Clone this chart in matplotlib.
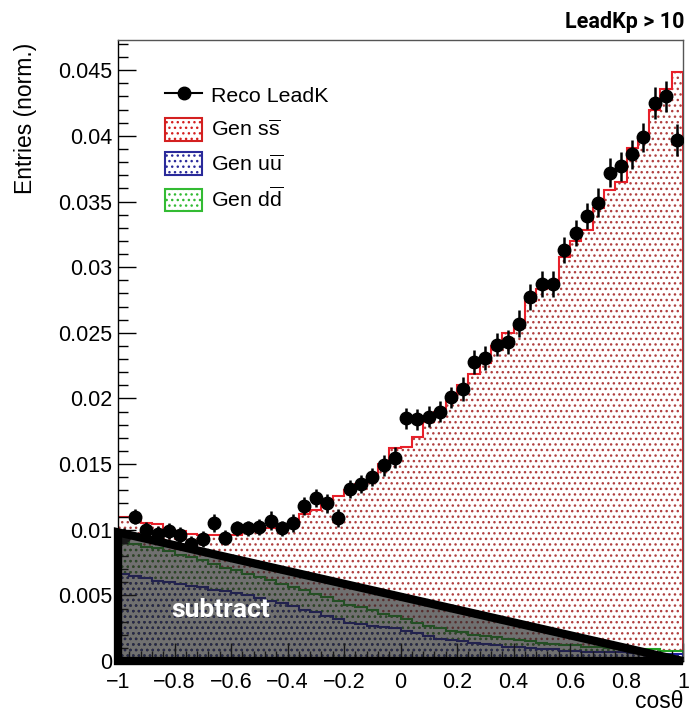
import numpy as np
import matplotlib.pyplot as plt
from matplotlib.lines import Line2D
from matplotlib.patches import Patch, Polygon
from matplotlib.ticker import MultipleLocator, FuncFormatter

plt.rcParams['font.family'] = ['Liberation Sans', 'DejaVu Sans']
plt.rcParams['mathtext.fontset'] = 'custom'
plt.rcParams['mathtext.rm'] = 'Liberation Sans'
plt.rcParams['mathtext.it'] = 'Liberation Sans:italic'
plt.rcParams['hatch.linewidth'] = 1.0

# binning in cos(theta)
edges = np.linspace(-1, 1, 51)

# reco leading kaon (normalised) with stat. errors
reco = [0.0095, 0.0110, 0.0100, 0.0097, 0.0099, 0.0096, 0.0089, 0.0093, 0.0105, 0.0094,
        0.0101, 0.0101, 0.0102, 0.0107, 0.0101, 0.0105, 0.0118, 0.0124, 0.0120, 0.0109,
        0.0131, 0.0135, 0.0140, 0.0149, 0.0155, 0.0185, 0.0184, 0.0186, 0.0190, 0.0201,
        0.0207, 0.0228, 0.0231, 0.0241, 0.0243, 0.0257, 0.0277, 0.0287, 0.0287, 0.0313,
        0.0326, 0.0339, 0.0349, 0.0372, 0.0377, 0.0386, 0.0399, 0.0425, 0.0430, 0.0397]
reco_err = [0.0006, 0.0006, 0.0006, 0.0006, 0.0006, 0.0006, 0.0006, 0.0006, 0.0007, 0.0006,
            0.0006, 0.0006, 0.0006, 0.0007, 0.0006, 0.0007, 0.0007, 0.0007, 0.0007, 0.0007,
            0.0007, 0.0007, 0.0007, 0.0008, 0.0008, 0.0008, 0.0008, 0.0008, 0.0008, 0.0008,
            0.0009, 0.0009, 0.0009, 0.0009, 0.0009, 0.0010, 0.0010, 0.0010, 0.0010, 0.0010,
            0.0010, 0.0010, 0.0011, 0.0011, 0.0011, 0.0011, 0.0011, 0.0012, 0.0012, 0.0012]

# generator level, per flavour
gen_ss = [0.0110, 0.0110, 0.0105, 0.0104, 0.0100, 0.0099, 0.0097, 0.0096, 0.0096, 0.0095,
          0.0096, 0.0099, 0.0100, 0.0101, 0.0101, 0.0103, 0.0112, 0.0115, 0.0121, 0.0126,
          0.0130, 0.0135, 0.0140, 0.0150, 0.0162, 0.0163, 0.0171, 0.0182, 0.0190, 0.0199,
          0.0210, 0.0219, 0.0227, 0.0240, 0.0250, 0.0255, 0.0274, 0.0283, 0.0289, 0.0308,
          0.0320, 0.0328, 0.0345, 0.0359, 0.0365, 0.0391, 0.0399, 0.0420, 0.0436, 0.0449]
gen_uu = [0.0066, 0.0065, 0.0063, 0.0061, 0.0060, 0.0059, 0.0057, 0.0056, 0.0054, 0.0053,
          0.0052, 0.0050, 0.0048, 0.0046, 0.0044, 0.0042, 0.0039, 0.0037, 0.0034, 0.0032,
          0.0029, 0.0028, 0.0027, 0.0026, 0.0025, 0.0023, 0.0021, 0.0019, 0.0017, 0.0016,
          0.0015, 0.0014, 0.0013, 0.0012, 0.0011, 0.0011, 0.0010, 0.0009, 0.0009, 0.0008,
          0.0008, 0.0007, 0.0007, 0.0007, 0.0007, 0.0006, 0.0006, 0.0006, 0.0005, 0.0005]
gen_dd = [0.0091, 0.0089, 0.0087, 0.0086, 0.0084, 0.0081, 0.0079, 0.0077, 0.0074, 0.0071,
          0.0069, 0.0066, 0.0064, 0.0062, 0.0059, 0.0056, 0.0054, 0.0051, 0.0049, 0.0046,
          0.0043, 0.0041, 0.0039, 0.0036, 0.0034, 0.0032, 0.0029, 0.0027, 0.0025, 0.0023,
          0.0022, 0.0020, 0.0019, 0.0018, 0.0017, 0.0016, 0.0015, 0.0014, 0.0013, 0.0012,
          0.0012, 0.0011, 0.0011, 0.0010, 0.0010, 0.0009, 0.0009, 0.0009, 0.0008, 0.0008]

# hand-drawn "subtract" triangle
subtract_x = [-1.0, 1.0, -1.0]
subtract_y = [0.0098, 0.0, 0.0]

centers = 0.5 * (edges[:-1] + edges[1:])

fig = plt.figure(figsize=(6.89, 7.15), dpi=100)
ax = fig.add_axes([0.1713, 0.0755, 0.8200, 0.8685])

# filled histograms (ROOT style dotted fill)
ax.stairs(gen_ss, edges, fill=True, facecolor='none', edgecolor='#b04040', hatch='...', linewidth=0)
ax.stairs(gen_dd, edges, fill=True, facecolor='none', edgecolor='#2e8b2e', hatch='...', linewidth=0)
ax.stairs(gen_uu, edges, fill=True, facecolor='none', edgecolor='#2a2a9a', hatch='...', linewidth=0)
ax.stairs(gen_ss, edges, color='#e8202a', linewidth=1.5)
ax.stairs(gen_dd, edges, color='#22a022', linewidth=1.5)
ax.stairs(gen_uu, edges, color='#1c1c9c', linewidth=1.5)

ax.errorbar(centers, reco, yerr=reco_err, fmt='o', color='black', ms=9,
            elinewidth=1.8, capsize=0, zorder=4)

tri = Polygon(np.column_stack([subtract_x, subtract_y]), closed=True,
              facecolor=(0.15, 0.15, 0.15, 0.66), edgecolor='black', linewidth=6,
              joinstyle='miter', clip_on=False, zorder=5)
ax.add_patch(tri)
ax.text(-0.637, 0.0039, 'subtract', color='white', fontfamily='Roboto', fontweight='bold',
        fontsize=19, ha='center', va='center', zorder=6)

ax.set_xlim(-1, 1)
ax.set_ylim(0, 0.0473)
ax.xaxis.set_major_locator(MultipleLocator(0.2))
ax.xaxis.set_minor_locator(MultipleLocator(0.04))
ax.yaxis.set_major_locator(MultipleLocator(0.005))
ax.yaxis.set_minor_locator(MultipleLocator(0.001))
fmt = FuncFormatter(lambda v, p: ('%g' % round(v, 4)).replace('-', '\u2212'))
ax.xaxis.set_major_formatter(fmt)
ax.yaxis.set_major_formatter(fmt)
ax.tick_params(which='both', direction='in', top=False, right=False, labelsize=15.5)
ax.tick_params(which='major', length=13, width=1)
ax.tick_params(which='minor', length=7, width=1)
ax.tick_params(axis='y', pad=4)
ax.tick_params(axis='x', pad=8)
for s in ax.spines.values():
    s.set_linewidth(1)
ax.spines['top'].set_color('#555555')
ax.spines['right'].set_color('#555555')

ax.set_ylabel('Entries (norm.)', loc='top', fontsize=16.5)
ax.yaxis.set_label_coords(-0.144, 0.995)
ax.set_xlabel('cos\u03b8', loc='right', fontsize=16.5)
ax.xaxis.set_label_coords(1.0, -0.047)

fig.text(0.993, 0.969, 'LeadKp > 10', ha='right', va='center', fontfamily='Roboto',
         fontweight='bold', fontsize=15.5)

handles = [
    Line2D([0], [0], color='black', marker='o', ms=9, lw=1.5),
    Patch(facecolor='white', edgecolor='#d42020', hatch='...', linewidth=1.5),
    Patch(facecolor='white', edgecolor='#2a2a9a', hatch='...', linewidth=1.5),
    Patch(facecolor='white', edgecolor='#33bb33', hatch='...', linewidth=1.5),
]
labels = ['Reco LeadK', r'Gen s$\overline{\mathrm{s}}$', r'Gen u$\overline{\mathrm{u}}$',
          r'Gen d$\overline{\mathrm{d}}$']
ax.legend(handles, labels, loc='upper left', bbox_to_anchor=(0.083, 0.93), frameon=False,
          fontsize=15.4, handlelength=1.75, handleheight=1.25, handletextpad=0.4,
          labelspacing=0.55, borderaxespad=0, borderpad=0)

fig.savefig('out.png', dpi=100)
